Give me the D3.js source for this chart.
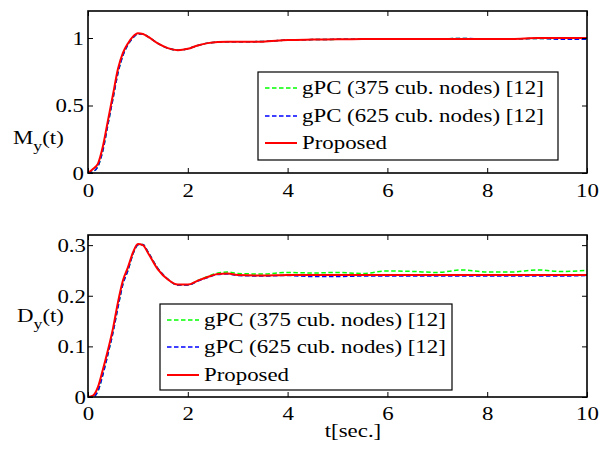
<!DOCTYPE html>
<html>
<head>
<meta charset="utf-8">
<script src="https://cdn.jsdelivr.net/npm/d3@7"></script>
<style>
  body { margin: 0; background: #fff; }
  text { font-family: "Liberation Serif", "Times New Roman", serif; fill: #000; }
</style>
</head>
<body>
<svg id="chart" width="605" height="450"></svg>
<script>
// time grid shared by all series
const t_values = [0, 0.1, 0.2, 0.3, 0.4, 0.5, 0.6, 0.7, 0.8, 0.9, 1.0, 1.1, 1.2, 1.4, 1.6, 1.8,
  2.0, 2.2, 2.4, 2.6, 2.8, 3.0, 3.5, 4.0, 4.5, 5.0, 5.5, 6.0, 6.5, 7.0, 7.5, 8.0, 8.5, 9.0, 9.5, 10];

// mean M_y(t)
const mean_gpc_375 = [0, 0.01, 0.05, 0.17, 0.36, 0.55, 0.74, 0.87, 0.95, 1.0, 1.03, 1.03, 1.01, 0.96, 0.925, 0.91,
  0.92, 0.945, 0.962, 0.97, 0.972, 0.972, 0.974, 0.985, 0.988, 0.99, 0.992, 0.993, 0.993, 0.994, 0.996, 0.993, 0.993, 0.996, 0.994, 0.992];
const mean_gpc_625 = [0, 0.01, 0.05, 0.17, 0.36, 0.55, 0.74, 0.87, 0.95, 1.0, 1.03, 1.03, 1.01, 0.96, 0.925, 0.91,
  0.92, 0.945, 0.962, 0.97, 0.972, 0.972, 0.974, 0.985, 0.988, 0.99, 0.99, 0.993, 0.993, 0.993, 0.997, 0.993, 0.993, 0.997, 0.99, 0.99];
const mean_proposed = [0, 0.03, 0.07, 0.2, 0.39, 0.58, 0.77, 0.89, 0.96, 1.01, 1.035, 1.03, 1.01, 0.96, 0.925, 0.91,
  0.92, 0.945, 0.962, 0.97, 0.972, 0.972, 0.973, 0.985, 0.988, 0.99, 0.993, 0.993, 0.993, 0.993, 0.993, 0.993, 0.993, 1.0, 1.0, 1.0];

// D_y(t)
const disp_gpc_375 = [0, 0.0, 0.012, 0.045, 0.085, 0.127, 0.177, 0.223, 0.25, 0.282, 0.3, 0.301, 0.287, 0.254, 0.233, 0.221,
  0.221, 0.23, 0.238, 0.245, 0.247, 0.244, 0.243, 0.246, 0.245, 0.246, 0.244, 0.249, 0.248, 0.246, 0.251, 0.247, 0.247, 0.251, 0.248, 0.25];
const disp_gpc_625 = [0, 0.0, 0.012, 0.045, 0.085, 0.127, 0.177, 0.223, 0.25, 0.282, 0.3, 0.301, 0.287, 0.254, 0.233, 0.221,
  0.221, 0.229, 0.236, 0.242, 0.243, 0.24, 0.239, 0.24, 0.238, 0.238, 0.239, 0.239, 0.239, 0.239, 0.239, 0.239, 0.239, 0.239, 0.239, 0.24];
const disp_proposed = [0, 0.003, 0.02, 0.055, 0.093, 0.135, 0.187, 0.23, 0.256, 0.285, 0.302, 0.3, 0.285, 0.252, 0.232, 0.222,
  0.222, 0.23, 0.237, 0.243, 0.244, 0.241, 0.24, 0.241, 0.241, 0.241, 0.241, 0.241, 0.241, 0.241, 0.241, 0.241, 0.241, 0.241, 0.241, 0.241];

const legend_labels = ["gPC (375 cub. nodes) [12]", "gPC (625 cub. nodes) [12]", "Proposed"];
const x_ticks = [0, 2, 4, 6, 8, 10];
const mean_ticks = [0, 0.5, 1];
const disp_ticks = [0, 0.1, 0.2, 0.3];

const series_style = [
  { color: "#00ff00", dash: "4.5,2.5", width: 1.5 },
  { color: "#0000ff", dash: "4.5,2.5", width: 1.5 },
  { color: "#ff0000", dash: null, width: 2 },
];

const stretch = 1.27;   // the original picture is widened horizontally
const font_size = 18;

const svg = d3.select("#chart");

function stretched_text(g, x, y) {
  return g.append("text")
    .attr("transform", `translate(${x},${y}) scale(${stretch},1)`)
    .attr("font-size", font_size);
}

function draw_panel(cfg) {
  const x = d3.scaleLinear().domain([0, 10]).range([88, 587]);
  const y = d3.scaleLinear().domain(cfg.y_domain).range(cfg.y_range);
  const top = cfg.y_range[1], bottom = cfg.y_range[0];
  const g = svg.append("g");

  const line = d3.line()
    .x((d, i) => x(t_values[i]))
    .y((d) => y(d))
    .curve(d3.curveMonotoneX);

  cfg.series.forEach((values, i) => {
    const st = series_style[i];
    g.append("path")
      .datum(values)
      .attr("fill", "none")
      .attr("stroke", st.color)
      .attr("stroke-width", st.width)
      .attr("stroke-dasharray", st.dash)
      .attr("d", line);
  });

  // inward ticks on all four sides
  const bottom_axis = g.append("g")
    .attr("transform", `translate(0,${bottom})`)
    .call(d3.axisBottom(x).tickValues(x_ticks).tickSize(-5).tickSizeOuter(0).tickFormat(d3.format("d")));
  bottom_axis.selectAll("text")
    .attr("font-size", font_size)
    .attr("font-family", "Liberation Serif")
    .attr("fill", "#000")
    .attr("y", cfg.x_label_y - bottom)
    .attr("dy", 0)
    .attr("transform", `scale(${stretch},1)`);

  g.append("g")
    .attr("transform", `translate(0,${top})`)
    .call(d3.axisTop(x).tickValues(x_ticks).tickSize(-5).tickSizeOuter(0).tickFormat(""));

  const left_axis = g.append("g")
    .attr("transform", "translate(88,0)")
    .call(d3.axisLeft(y).tickValues(cfg.y_ticks).tickSize(-5).tickSizeOuter(0).tickFormat(cfg.y_format));
  left_axis.selectAll("text")
    .attr("font-size", font_size)
    .attr("font-family", "Liberation Serif")
    .attr("fill", "#000")
    .attr("x", -cfg.y_label_gap / stretch)
    .attr("dy", "0.36em")
    .attr("transform", `scale(${stretch},1)`);

  g.append("g")
    .attr("transform", "translate(587,0)")
    .call(d3.axisRight(y).tickValues(cfg.y_ticks).tickSize(-5).tickSizeOuter(0).tickFormat(""));

  g.selectAll(".domain").remove();
  g.selectAll(".tick line").attr("stroke", "#000").attr("stroke-width", 1);

  g.append("rect")
    .attr("x", 88).attr("y", top)
    .attr("width", 587 - 88).attr("height", bottom - top)
    .attr("fill", "none").attr("stroke", "#000").attr("stroke-width", 1.6);

  // legend
  const lg = cfg.legend;
  g.append("rect")
    .attr("x", lg.x).attr("y", lg.y)
    .attr("width", lg.w).attr("height", lg.h)
    .attr("fill", "#fff").attr("stroke", "#000").attr("stroke-width", 1.2);
  legend_labels.forEach((label, i) => {
    const st = series_style[i];
    const ly = lg.rows[i];
    g.append("line")
      .attr("x1", lg.x + 7).attr("x2", lg.x + 39)
      .attr("y1", ly).attr("y2", ly)
      .attr("stroke", st.color)
      .attr("stroke-width", st.width)
      .attr("stroke-dasharray", st.dash);
    stretched_text(g, lg.x + 44, ly + 6).text(label);
  });

  // y label with subscript
  const yl = stretched_text(g, cfg.y_title_x, cfg.y_title_y);
  yl.append("tspan").text(cfg.y_title);
  yl.append("tspan").attr("font-size", 14).attr("dy", 7).text("y");
  yl.append("tspan").attr("dy", -7).text("(t)");
}

draw_panel({
  y_domain: [0, 1.2],
  y_range: [173, 11],
  y_ticks: mean_ticks,
  y_format: (d) => String(d),
  y_label_gap: 4,
  x_label_y: 197,
  series: [mean_gpc_375, mean_gpc_625, mean_proposed],
  legend: { x: 258, y: 72, w: 300, h: 88, rows: [88, 116, 143] },
  y_title: "M",
  y_title_x: 13,
  y_title_y: 144,
});

draw_panel({
  y_domain: [0, 0.32],
  y_range: [397, 235],
  y_ticks: disp_ticks,
  y_format: (d) => String(d),
  y_label_gap: 2,
  x_label_y: 420,
  series: [disp_gpc_375, disp_gpc_625, disp_proposed],
  legend: { x: 160, y: 304, w: 292, h: 86, rows: [320, 347, 375] },
  y_title: "D",
  y_title_x: 17,
  y_title_y: 322,
});

const xt = stretched_text(svg, 353, 437).attr("text-anchor", "middle").text("t[sec.]");
</script>
</body>
</html>
